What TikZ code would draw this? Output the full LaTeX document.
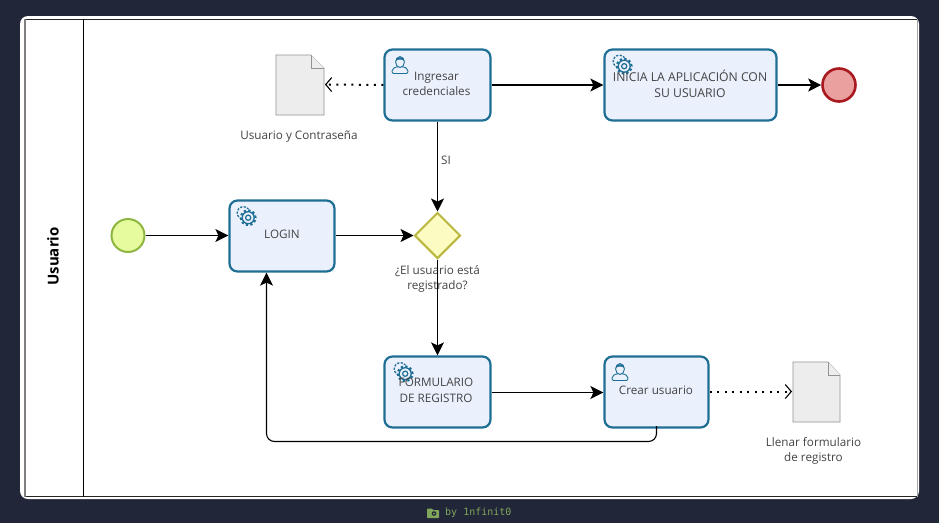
\documentclass[tikz,border=0pt]{standalone}
\usepackage{fontspec}
\setmainfont{Open Sans}
\newfontfamily\wmmono{DejaVu Sans Mono}
\usetikzlibrary{arrows.meta,shapes.geometric,calc}
\definecolor{bgdark}{HTML}{222639}
\definecolor{taskblue}{HTML}{1F6E94}
\definecolor{taskfill}{HTML}{EAF0FC}
\definecolor{txt}{HTML}{444444}
\definecolor{wmgreen}{HTML}{7FA65A}
\definecolor{stline}{HTML}{8DB640}\definecolor{stfill}{HTML}{E6FB9E}
\definecolor{enline}{HTML}{A81A20}\definecolor{enfill}{HTML}{EBA0A0}
\definecolor{gwline}{HTML}{B9B73E}\definecolor{gwfill}{HTML}{FBFBC2}
\tikzset{
  x=1pt,y=-1pt,
  task/.style={draw=taskblue,fill=taskfill,line width=2.2pt,rounded corners=8pt,anchor=north west,inner sep=0pt},
  flow/.style={draw=black,line width=1.1pt,-{Stealth[length=13pt,width=13pt,inset=3pt]}},
  assoc/.style={draw=black,line width=2pt,dash pattern=on 2pt off 5.5pt,-{Straight Barb[length=6pt,width=14pt,line width=1.1pt]}},
  lbl/.style={align=center,font=\fontsize{11.7}{15.5}\selectfont,text=txt,inner sep=0pt},
  docshape/.style={draw=gray!85,fill=black!7,line width=.7pt,line join=miter},
}
\newcommand{\gearicon}[2]{%
  \begin{scope}[shift={(#1,#2)}]
    \draw[taskblue,line width=1.3pt,dash pattern=on 2.2pt off 1.4pt] (-3.6,-3.6) circle (6.2pt);
    \fill[taskfill] (1.2,1.2) circle (8.4pt);
    \draw[taskblue,line width=1.3pt] (1.2,1.2) circle (6pt);
    \draw[taskblue,line width=2pt,dash pattern=on 2.3pt off 2.3pt] (1.2,1.2) circle (7.4pt);
    \draw[taskblue,line width=1.2pt] (1.2,1.2) circle (2.6pt);
  \end{scope}}
\newcommand{\usericon}[2]{%
  \begin{scope}[shift={(#1,#2)}]
    \draw[taskblue,line width=.9pt,fill=taskfill,rounded corners=2pt] (-8,8.5) -- (-8,4) -- (-3,1.5) -- (3,1.5) -- (8,4) -- (8,8.5) -- cycle;
    \draw[taskblue,line width=.9pt,fill=taskfill] (0,-3) ellipse (4.4pt and 5.4pt);
    \fill[taskblue] (-4.4,-4) .. controls (-4,-9) and (4,-9) .. (4.4,-4) .. controls (2,-6) and (-2,-6) .. (-4.4,-4) -- cycle;
  \end{scope}}
\begin{document}
\begin{tikzpicture}
\useasboundingbox (0,0) rectangle (939,523);
\fill[bgdark] (0,0) rectangle (939,523);
\fill[white,rounded corners=8pt] (20,16) rectangle (919,499);
\draw[black!85,line width=1pt] (25,19) -- (917,19);
\draw[black!85,line width=1.4pt] (25,496.5) -- (917,496.5);
\draw[gray,line width=1.2pt] (25,19) -- (25,496.5);
\draw[gray!70,line width=1pt] (917,19) -- (917,496.5);
\draw[black,line width=1pt] (83.5,19) -- (83.5,496.5);
\node[rotate=90,font=\bfseries\fontsize{15}{18}\selectfont,text=black,inner sep=0pt] (lane) at (53,256.5) {Usuario};

% tasks
\node[task,minimum width=106pt,minimum height=71pt] (ing) at (383.4,48.4) {};
\node[task,minimum width=172pt,minimum height=71pt] (ini) at (603.4,48.4) {};
\node[task,minimum width=105pt,minimum height=71pt] (log) at (228.4,199.4) {};
\node[task,minimum width=106pt,minimum height=71pt] (frm) at (383.4,355.4) {};
\node[task,minimum width=104pt,minimum height=71pt] (cre) at (603.4,355.4) {};
\usericon{400}{65}
\usericon{620}{372}
\gearicon{247}{216.5}
\gearicon{623}{65}
\gearicon{404}{372.5}
\node[lbl] (ingt) at (436.5,84) {Ingresar\\credenciales};
\node[lbl,font=\fontsize{12.2}{15.5}\selectfont] (init) at (690,84) {INICIA LA APLICACIÓN CON\\SU USUARIO};
\node[lbl] (logt) at (282,234.5) {LOGIN};
\node[lbl] (frmt) at (436,390.5) {FORMULARIO\\DE REGISTRO};
\node[lbl] (cret) at (656,390.5) {Crear usuario};

% events and gateway
\node[circle,draw=stline,fill=stfill,line width=2pt,minimum size=33pt,inner sep=0pt] (st) at (128,235.5) {};
\node[circle,draw=enline,fill=enfill,line width=2.6pt,minimum size=33pt,inner sep=0pt] (en) at (839,85) {};
\node[diamond,draw=gwline,fill=gwfill,line width=2pt,minimum width=46pt,minimum height=46pt,inner sep=0pt,aspect=1] (gw) at (437.5,235.5) {};
\node[lbl] (gwt) at (437.5,279) {¿El usuario está\\registrado?};

% documents
\coordinate (d1) at (276,55);
\coordinate (d2) at (793,362);
\draw[docshape] (d1) -- ++(35,0) -- ++(13,13) -- ++(0,47) -- ++(-48,0) -- cycle;
\draw[docshape] (311,55) -- (311,68) -- (324,68);
\draw[docshape] (d2) -- ++(35,0) -- ++(12,13) -- ++(0,47) -- ++(-47,0) -- cycle;
\draw[docshape] (828,362) -- (828,375) -- (840,375);
\coordinate (d1r) at (325,84.5);
\coordinate (d2l) at (792,391.5);
\node[lbl] (d1t) at (299,137) {Usuario y Contraseña};
\node[lbl] (d2t) at (813.5,451) {Llenar formulario\\de registro};

% connectors
\coordinate (ty) at (0,85);
\coordinate (fy) at (0,392.5);
\coordinate (bk) at (266.5,441.5);
\draw[flow] (st.east) -- (log.west |- st.east);
\draw[flow] (log.east |- gw.west) -- (gw.west);
\draw[flow] (ing.south -| gw.north) -- (gw.north);
\node[lbl] (si) at (446,160) {SI};
\draw[flow] (gw.south) -- (frm.north -| gw.south);
\draw[flow] (ing.east |- ty) -- (ini.west |- ty);
\draw[flow] (ini.east |- ty) -- (en.west);
\draw[flow] (frm.east |- fy) -- (cre.west |- fy);
\draw[flow,rounded corners=8pt] (cre.south |- 0,426) -- (cre.south |- bk) -- (bk) -- (bk |- log.south);
\draw[assoc] (ing.west) -- (d1r);
\draw[assoc] (cre.east |- d2l) -- (d2l);

% watermark
\node[font=\wmmono\fontsize{10}{12}\selectfont,text=wmgreen,inner sep=0pt,anchor=west] (wm) at (445,513) {by 1nfinit0};
\fill[wmgreen,rounded corners=.6pt] (427,509) -- (427,518) -- (439,518) -- (439,510) -- (433,510) -- (432,508.5) -- (428,508.5) -- cycle;
\fill[bgdark] (434,513.5) circle (2.3pt);
\fill[wmgreen] (434,513.5) circle (1pt);
\end{tikzpicture}
\end{document}
